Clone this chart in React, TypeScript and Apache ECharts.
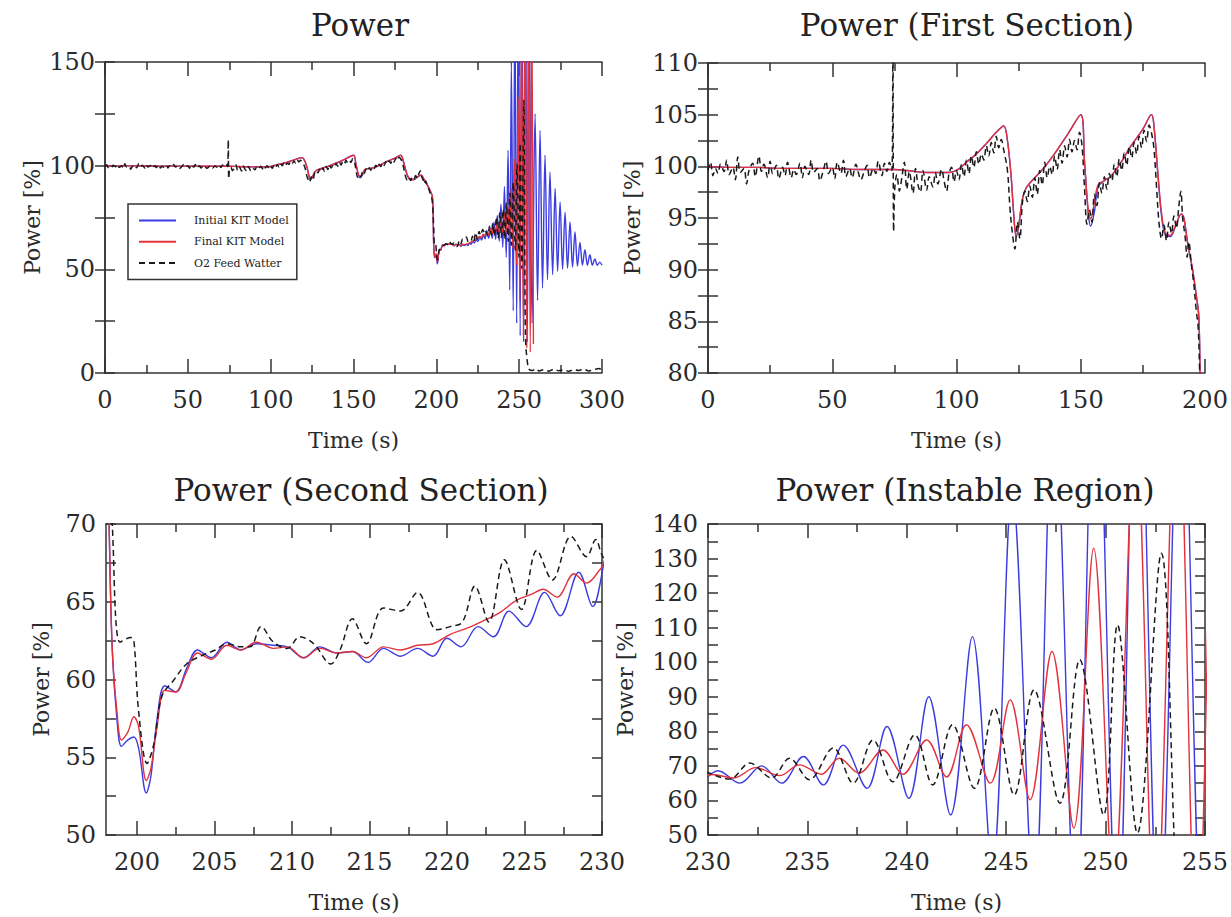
import { useEffect, useRef } from "react";
import * as echarts from "echarts";

// ---------------- data ----------------
const legendNames = ["Initial KIT Model", "Final KIT Model", "O2 Feed Watter"];
const panelTitles = ["Power", "Power (First Section)", "Power (Second Section)", "Power (Instable Region)"];
const xAxisTitle = "Time (s)";
const yAxisTitle = "Power [%]";

const xRanges = [[0, 300], [0, 200], [198, 230], [230, 255]];
const yRanges = [[0, 150], [80, 110], [50, 70], [50, 140]];
const xLabelValues = [
  [0, 50, 100, 150, 200, 250, 300],
  [0, 50, 100, 150, 200],
  [200, 205, 210, 215, 220, 225, 230],
  [230, 235, 240, 245, 250, 255],
];
const xMinorTickValues = [
  [25, 75, 125, 175, 225, 275],
  [25, 75, 125, 175],
  [202.5, 207.5, 212.5, 217.5, 222.5, 227.5],
  [232.5, 237.5, 242.5, 247.5, 252.5],
];
const yLabelValues = [
  [0, 50, 100, 150],
  [80, 85, 90, 95, 100, 105, 110],
  [50, 55, 60, 65, 70],
  [50, 60, 70, 80, 90, 100, 110, 120, 130, 140],
];
const yTickValues = [
  [0, 25, 50, 75, 100, 125, 150],
  [80, 82.5, 85, 87.5, 90, 92.5, 95, 97.5, 100, 102.5, 105, 107.5, 110],
  [50, 52.5, 55, 57.5, 60, 62.5, 65, 67.5, 70],
  [50, 55, 60, 65, 70, 75, 80, 85, 90, 95, 100, 105, 110, 115, 120, 125, 130, 135, 140],
];

// Final KIT Model (red) : [time s, power %]
const finalKitModel: [number, number][] = [
  [0, 100.0], [10, 99.9], [20, 99.9], [30, 99.8], [40, 99.8], [50, 99.8], [60, 99.7], [70, 99.7],
  [75, 99.7], [80, 99.6], [88, 99.4], [97, 99.4],
  [100, 99.6], [104, 100.4], [108, 101.2], [112, 102.2], [116, 103.3], [119, 103.9],
  [120.5, 102.5], [122, 99.0], [123, 95.5], [124, 93.3], [125, 94.2], [126.5, 96.8], [128, 97.9], [130, 98.5],
  [135, 99.8], [140, 101.4], [145, 103.2], [150, 105.0],
  [151.5, 100.5], [153, 95.8], [154, 94.9], [155.5, 96.5], [157, 98.2], [160, 98.7], [162, 99.0],
  [166, 100.3], [170, 101.9], [175, 103.6], [178.5, 105.0], [179.5, 103.8],
  [181, 99.5], [182.5, 95.5], [184, 93.6], [186, 93.3], [188, 94.2], [190.5, 95.4], [191.5, 95.0],
  [193, 92.6], [195, 90.0], [196.5, 87.5], [197.5, 85.5], [198.0, 80.0], [198.2, 70.0], [198.4, 62.0],
  [198.7, 58.0], [199.0, 56.1], [199.4, 56.6], [199.8, 57.6], [200.1, 57.0], [200.6, 53.5], [200.9, 54.3],
  [201.3, 57.0], [201.8, 59.3], [202.5, 59.2], [203.2, 60.5], [203.9, 61.7], [204.8, 61.3], [205.8, 62.2],
  [206.7, 61.9], [207.7, 62.4], [208.8, 62.0], [209.7, 62.1], [210.75, 61.4], [211.8, 62.0], [212.9, 61.7],
  [213.9, 61.8], [214.8, 61.4], [215.9, 62.1], [217.0, 61.9], [218.1, 62.2], [219.1, 62.3], [220.2, 62.9],
  [221.3, 63.3], [222.4, 63.8], [223.4, 64.3], [224.5, 65.1], [225.5, 65.5], [226.2, 65.8], [227.1, 65.3],
  [228.2, 66.8], [229.0, 66.2], [229.9, 67.1], [230.2, 67.5],
  [231.3, 66.5], [232.4, 69.5], [233.6, 67.2], [234.6, 70.3], [235.7, 67.6], [236.6, 72.2], [237.6, 67.9],
  [238.8, 74.6], [239.8, 67.6], [241.0, 77.5], [242.0, 66.8], [243.0, 81.9], [244.2, 65.0], [245.2, 89.1],
  [246.2, 60.2], [247.3, 103.1], [248.4, 52.0], [249.4, 133.0], [250.4, 35.0], [251.5, 170.0], [252.5, 18.0],
  [253.6, 185.0], [254.6, 12.0], [255.6, 185.0], [256.7, 10.0], [257.6, 175.0], [258.6, 14.0],
];

// Initial KIT Model (blue)
const initialKitModel: [number, number][] = [
  [0, 100.0], [10, 99.9], [20, 99.9], [30, 99.8], [40, 99.8], [50, 99.8], [60, 99.7], [70, 99.7],
  [75, 99.7], [80, 99.6], [88, 99.4], [97, 99.4],
  [100, 99.6], [104, 100.4], [108, 101.2], [112, 102.2], [116, 103.3], [119, 103.9],
  [120.5, 102.5], [122, 99.0], [123, 95.4], [124, 93.2], [125, 94.2], [126.5, 96.8], [128, 97.9], [130, 98.5],
  [135, 99.8], [140, 101.4], [145, 103.2], [150, 105.0],
  [151.5, 100.5], [153, 95.5], [154, 94.2], [155.5, 95.6], [157, 98.0], [160, 98.7], [162, 99.0],
  [166, 100.3], [170, 101.9], [175, 103.6], [178.5, 105.0], [179.5, 103.8],
  [181, 99.3], [182.5, 95.2], [184, 93.4], [186, 93.2], [188, 94.1], [190.5, 95.4], [191.5, 95.0],
  [193, 92.6], [195, 90.0], [196.5, 87.5], [197.5, 85.5], [198.0, 80.0], [198.2, 70.0], [198.4, 62.0],
  [198.7, 57.5], [199.0, 55.7], [199.4, 56.1], [199.8, 56.3], [200.1, 55.6], [200.6, 52.7], [200.9, 53.8],
  [201.3, 57.5], [201.8, 59.6], [202.5, 59.2], [203.2, 60.7], [203.9, 61.9], [204.8, 61.4], [205.8, 62.4],
  [206.7, 61.9], [207.7, 62.3], [208.8, 62.2], [209.7, 62.1], [210.75, 61.4], [211.8, 62.1], [212.9, 61.7],
  [213.9, 61.8], [214.9, 61.1], [215.9, 62.0], [217.0, 61.5], [218.1, 62.0], [219.1, 61.5], [220.0, 62.65],
  [220.9, 62.1], [222.0, 63.4], [223.0, 62.75], [224.0, 64.4], [225.1, 63.4], [226.3, 65.6], [227.3, 64.1],
  [228.5, 66.9], [229.4, 64.7], [230.5, 68.6],
  [231.6, 65.0], [232.7, 70.0], [233.7, 65.0], [234.8, 72.7], [235.8, 64.5], [236.8, 76.0], [238.0, 63.5],
  [239.0, 81.4], [240.1, 60.6], [241.1, 90.0], [242.2, 55.8], [243.3, 107.4], [244.3, 40.0], [245.3, 150.0],
  [246.4, 30.0], [247.4, 180.0], [248.5, 24.0], [249.5, 200.0], [250.6, 18.0], [251.6, 210.0], [252.7, 15.0],
  [253.8, 200.0], [254.9, 15.0], [256.1, 170.0], [257.8, 24.0], [259.6, 125.0], [261.1, 35.0], [262.6, 117.0],
  [264.1, 41.0], [265.6, 105.0], [267.1, 45.0], [268.6, 97.0], [270.2, 47.5], [271.7, 89.0], [273.2, 49.0],
  [274.7, 82.5], [276.2, 50.0], [277.7, 77.6], [279.2, 50.5], [280.7, 72.8], [282.2, 51.0], [283.7, 68.0],
  [285.2, 51.5], [286.7, 63.0], [288.2, 52.0], [289.7, 59.5], [291.2, 52.0], [292.7, 57.0], [294.2, 52.0],
  [295.7, 55.0], [297.2, 52.0], [298.7, 53.5], [300.0, 52.0],
];

// O2 Feed Watter (black dashed)
const o2FeedWater: [number, number][] = [
  [0, 99.6], [1, 100.4], [2, 99.1], [3, 99.8], [4, 99.3], [5, 100.2], [6.5, 99.5], [7.5, 100.6], [8.5, 99.2],
  [10, 99.9], [11, 98.7], [12, 100.9], [13, 99.4], [14.5, 99.8], [15.5, 98.3], [16.5, 99.6], [18, 100.3],
  [19, 99.0], [20.5, 101.0], [21.5, 99.5], [22.5, 100.2], [24, 98.9], [25, 100.5], [26, 99.3], [27.5, 100.1],
  [28.5, 98.8], [30, 99.9], [31, 99.1], [32, 100.4], [33.5, 98.9], [34.5, 99.7], [35.5, 99.2], [37, 100.3],
  [38, 98.9], [39, 100.0], [40.5, 99.2], [41.5, 100.6], [42.5, 99.4], [44, 99.8], [45, 98.6], [46.5, 99.7],
  [47.5, 100.5], [48.5, 99.3], [50, 99.9], [51, 98.8], [52, 100.4], [53.5, 99.3], [54.5, 100.6], [55.5, 99.0],
  [57, 99.8], [58, 98.9], [59.5, 100.2], [60.5, 99.4], [61.5, 98.7], [63, 99.6], [64, 100.1], [65, 98.9],
  [66.5, 99.8], [67.5, 99.3], [68.5, 100.5], [70, 99.1], [71, 100.3], [72, 99.5], [73, 100.4], [74, 99.6],
  [74.4, 112.5], [74.7, 93.7], [75.2, 98.0],
  [76, 99.2], [77, 97.6], [78, 98.9], [79, 100.4], [80, 97.8], [81, 99.5], [82.5, 97.4], [83.5, 99.8],
  [84.5, 98.2], [85.5, 97.5], [86.5, 99.6], [88, 97.7], [89, 99.0], [90.5, 98.0], [91.5, 99.4], [92.5, 98.3],
  [94, 99.7], [95, 98.6], [96, 97.6], [97, 99.3], [98, 99.9], [99, 98.5],
  [100, 99.6], [101, 98.7], [102, 100.2], [103, 99.0], [104, 100.6], [105, 99.3], [106, 101.0], [107, 99.9],
  [108, 101.4], [109, 100.2], [110, 101.2], [111, 100.6], [112, 102.0], [113, 101.0], [114, 102.3],
  [115, 101.3], [116, 102.9], [117, 101.8], [118, 102.6], [119, 101.6],
  [120.5, 99.6], [121.5, 96.0], [122.5, 93.5], [123.5, 92.0], [124.5, 94.6], [125.5, 93.0], [126.5, 96.4],
  [127.5, 97.6], [128.5, 96.6], [129.5, 98.1], [130.5, 97.0], [131.5, 98.9], [132.5, 97.3], [133.5, 99.6],
  [134.5, 98.2], [135.5, 100.4], [136.5, 98.9], [137.5, 100.0], [138.5, 99.2], [139.5, 101.0], [140.5, 99.7],
  [141.5, 101.6], [142.5, 100.3], [143.5, 102.0], [144.5, 100.9], [145.5, 102.6], [146.5, 101.4],
  [147.5, 102.5], [148.5, 101.6], [149.5, 103.3], [150.5, 102.0],
  [151.5, 98.0], [152.5, 94.4], [153.5, 95.8], [154.5, 94.6], [155.5, 97.3], [156.5, 96.2], [157.5, 98.4],
  [158.5, 97.4], [159.5, 99.0], [160.5, 97.8], [161.5, 99.3], [162.5, 98.6], [163.5, 100.2], [164.5, 99.0],
  [165.5, 100.7], [166.5, 99.6], [167.5, 101.3], [168.5, 100.1], [169.5, 101.9], [170.5, 100.8],
  [171.5, 102.3], [172.5, 101.2], [173.5, 102.9], [174.5, 101.8], [175.5, 103.5], [176.5, 102.4],
  [177.5, 104.0], [178.5, 103.2], [179.5, 101.6],
  [180.5, 98.0], [181.5, 94.5], [182.5, 93.0], [183.5, 94.3], [184.5, 92.8], [185.5, 94.6], [186.5, 93.5],
  [187.5, 95.2], [188.5, 94.0], [189.5, 96.2], [190.3, 97.6], [191, 95.0], [192, 93.2], [192.8, 91.2],
  [193.5, 92.7], [194.5, 90.5], [195.5, 88.6], [196.5, 86.0], [197.2, 84.6], [197.8, 80.5], [198.1, 76.0],
  [198.4, 70.0], [198.9, 62.4], [199.6, 62.7], [199.8, 62.5], [200.1, 58.0], [200.65, 54.6], [201.1, 55.9],
  [201.6, 58.9], [202.4, 60.0], [203.2, 61.0], [204.1, 61.5], [205.05, 61.9], [205.8, 62.3], [206.7, 62.1],
  [207.3, 62.1], [208.0, 63.4], [208.8, 62.4], [209.7, 62.0], [210.5, 62.75], [211.4, 62.3], [212.5, 61.0],
  [213.1, 61.9], [213.9, 63.9], [214.8, 62.3], [215.9, 64.6], [217.0, 64.4], [218.1, 65.6], [219.35, 63.2],
  [220.2, 63.4], [221.0, 63.7], [221.8, 66.0], [222.7, 63.7], [223.7, 67.7], [224.8, 64.5], [225.8, 68.3],
  [226.8, 66.4], [228.0, 69.2], [229.0, 67.9], [229.6, 69.0], [230.0, 68.0],
  [231.1, 66.2], [232.1, 70.8], [233.2, 66.5], [234.1, 72.2], [235.1, 66.0], [236.3, 75.2], [237.3, 65.0],
  [238.3, 77.5], [239.3, 65.4], [240.4, 79.0], [241.3, 64.5], [242.3, 81.9], [243.4, 63.5], [244.4, 86.7],
  [245.4, 61.6], [246.4, 92.0], [247.7, 59.2], [248.7, 100.7], [249.9, 55.8], [250.6, 110.8], [251.6, 50.5],
  [252.8, 131.5], [253.6, 30.0], [254.0, 14.0], [255.0, 5.0], [256.0, 1.8],
  [258, 1.2], [260, 2.0], [262, 1.0], [265, 1.6], [268, 0.9], [271, 1.8], [274, 1.1], [277, 1.5], [280, 0.8],
  [283, 1.7], [286, 1.2], [289, 1.9], [292, 1.0], [295, 1.5], [298, 2.2], [300, 1.4],
];

// ---------------- layout / style ----------------
const gridBoxes = [
  { left: 105, top: 62, width: 497, height: 311 },
  { left: 708, top: 63, width: 497, height: 310 },
  { left: 106, top: 524, width: 496, height: 311 },
  { left: 708, top: 524, width: 497, height: 311 },
];
const titlePos = [
  { x: 355, y: 4 },
  { x: 962, y: 4 },
  { x: 356, y: 469 },
  { x: 960, y: 469 },
];
const yNameGaps = [62, 65, 54, 72];
const FONT = "DejaVu Serif";
const TEXT = "#2a2a2a";
const AXIS = "#333";
const seriesColors = ["#3c3ce0", "#e3323c", "#1a1a1a"];

export default function App() {
  const ref = useRef<HTMLDivElement>(null);
  useEffect(() => {
    if (!ref.current) return;
    const chart = echarts.init(ref.current, undefined, { renderer: "svg" });
    const xAxes: any[] = [];
    const yAxes: any[] = [];
    const series: any[] = [];
    const axisLineStyle = { color: AXIS, width: 1.5 };
    for (let g = 0; g < 4; g++) {
      const [xmin, xmax] = xRanges[g];
      const [ymin, ymax] = yRanges[g];
      const base = { gridIndex: g, type: "value", min: xmin, max: xmax, splitLine: { show: false } };
      xAxes.push({
        ...base,
        position: "bottom",
        axisLine: { show: true, lineStyle: axisLineStyle },
        axisTick: { show: true, inside: true, length: 14, customValues: xLabelValues[g], lineStyle: axisLineStyle },
        axisLabel: { show: true, customValues: xLabelValues[g], margin: 15, fontFamily: FONT, fontSize: 24, color: TEXT },
        name: xAxisTitle,
        nameLocation: "middle",
        nameGap: 56,
        nameTextStyle: { fontFamily: FONT, fontSize: 22, color: TEXT },
      });
      xAxes.push({
        ...base,
        position: "bottom",
        axisLine: { show: false },
        axisTick: { show: true, inside: true, length: 8, customValues: xMinorTickValues[g], lineStyle: axisLineStyle },
        axisLabel: { show: false },
      });
      xAxes.push({
        ...base,
        position: "top",
        axisLine: { show: true, lineStyle: axisLineStyle },
        axisTick: { show: true, inside: true, length: 14, customValues: xLabelValues[g], lineStyle: axisLineStyle },
        axisLabel: { show: false },
      });
      xAxes.push({
        ...base,
        position: "top",
        axisLine: { show: false },
        axisTick: { show: true, inside: true, length: 8, customValues: xMinorTickValues[g], lineStyle: axisLineStyle },
        axisLabel: { show: false },
      });
      const ybase = { gridIndex: g, type: "value", min: ymin, max: ymax, splitLine: { show: false } };
      yAxes.push({
        ...ybase,
        position: "left",
        axisLine: { show: true, lineStyle: axisLineStyle },
        axisTick: { show: true, inside: true, length: 10, customValues: yTickValues[g], lineStyle: axisLineStyle },
        axisLabel: { show: true, customValues: yLabelValues[g], margin: 10, fontFamily: FONT, fontSize: 24, color: TEXT },
        name: yAxisTitle,
        nameLocation: "middle",
        nameGap: yNameGaps[g],
        nameRotate: 90,
        nameTextStyle: { fontFamily: FONT, fontSize: 22, color: TEXT },
      });
      yAxes.push({
        ...ybase,
        position: "right",
        axisLine: { show: true, lineStyle: axisLineStyle },
        axisTick: { show: true, inside: true, length: 10, customValues: yTickValues[g], lineStyle: axisLineStyle },
        axisLabel: { show: false },
      });
      const datasets = [initialKitModel, finalKitModel, o2FeedWater];
      datasets.forEach((d, k) => {
        series.push({
          type: "line",
          name: legendNames[k],
          xAxisIndex: g * 4,
          yAxisIndex: g * 2,
          data: d,
          symbol: "none",
          showSymbol: false,
          smooth: 0.35,
          clip: true,
          z: 2 + k,
          lineStyle: {
            color: seriesColors[k],
            width: k === 2 ? 1.5 : 1.4,
            type: k === 2 ? [6, 4] : "solid",
          },
          itemStyle: { color: seriesColors[k] },
        });
      });
    }
    chart.setOption({
      animation: false,
      backgroundColor: "#fff",
      title: panelTitles.map((t, i) => ({
        text: t,
        left: titlePos[i].x,
        top: titlePos[i].y,
        textAlign: "center",
        textStyle: { fontFamily: FONT, fontSize: 31, fontWeight: "normal", color: "#222" },
      })),
      legend: {
        data: legendNames,
        orient: "vertical",
        left: 128,
        top: 204,
        padding: [11, 8, 11, 10],
        itemWidth: 37,
        itemHeight: 14,
        itemGap: 10,
        borderColor: "#333",
        borderWidth: 1.5,
        backgroundColor: "#fff",
        itemStyle: { opacity: 0 },
        textStyle: { fontFamily: FONT, fontSize: 11, color: "#222", padding: [0, 0, 0, 13] },
      },
      grid: gridBoxes.map((b) => ({ ...b, containLabel: false })),
      xAxis: xAxes,
      yAxis: yAxes,
      series,
    });
    return () => chart.dispose();
  }, []);
  return (
    <div
      ref={ref}
      style={{ position: "fixed", left: 0, top: 0, width: 1231, height: 917, background: "#fff" }}
    />
  );
}
